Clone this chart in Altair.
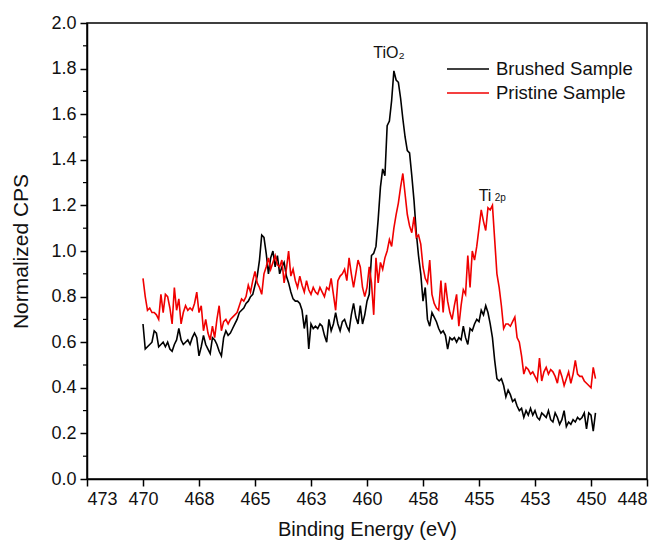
import altair as alt
import pandas as pd

# Binding energy grid (eV), 470.0 down to 449.8 in 0.1 eV steps
energy = [round(470.0 - 0.1 * i, 1) for i in range(203)]

brushed = [
    0.68, 0.57, 0.58, 0.59, 0.60, 0.65, 0.64, 0.58, 0.59, 0.60,
    0.58, 0.60, 0.57, 0.56, 0.59, 0.61, 0.66, 0.61, 0.59, 0.60,
    0.61, 0.59, 0.62, 0.64, 0.62, 0.54, 0.58, 0.63, 0.59, 0.57,
    0.55, 0.62, 0.61, 0.59, 0.56, 0.54, 0.62, 0.65, 0.63, 0.64,
    0.66, 0.68, 0.70, 0.73, 0.74, 0.75, 0.77, 0.78, 0.80, 0.81,
    0.85, 0.89, 0.96, 1.07, 1.06, 0.99, 0.90, 0.97, 1.00, 0.93,
    0.98, 0.90, 0.93, 0.95, 0.89, 0.86, 0.82, 0.79, 0.78, 0.78,
    0.77, 0.74, 0.66, 0.72, 0.57, 0.68, 0.66, 0.67, 0.66, 0.68,
    0.67, 0.63, 0.60, 0.70, 0.65, 0.68, 0.73, 0.68, 0.65, 0.69,
    0.70, 0.67, 0.65, 0.72, 0.77, 0.71, 0.68, 0.76, 0.68, 0.72,
    0.78, 0.81, 0.98, 0.99, 1.02, 1.14, 1.28, 1.36, 1.33, 1.55,
    1.57, 1.66, 1.79, 1.75, 1.74, 1.67, 1.58, 1.50, 1.44, 1.43,
    1.33, 1.22, 1.08, 0.98, 0.90, 0.78, 0.84, 0.70, 0.67, 0.73,
    0.71, 0.69, 0.66, 0.64, 0.65, 0.63, 0.57, 0.62, 0.61, 0.62,
    0.60, 0.62, 0.61, 0.67, 0.62, 0.59, 0.66, 0.65, 0.68, 0.70,
    0.69, 0.74, 0.72, 0.76, 0.73, 0.68, 0.62, 0.52, 0.44, 0.43,
    0.44, 0.41, 0.36, 0.39, 0.37, 0.34, 0.35, 0.32, 0.30, 0.31,
    0.27, 0.30, 0.28, 0.31, 0.28, 0.30, 0.27, 0.26, 0.29, 0.28,
    0.27, 0.30, 0.26, 0.25, 0.29, 0.27, 0.24, 0.26, 0.30, 0.23,
    0.25, 0.24, 0.26, 0.25, 0.27, 0.26, 0.27, 0.29, 0.22, 0.29,
    0.28, 0.21, 0.29,
]

pristine = [
    0.88, 0.80, 0.74, 0.75, 0.73, 0.73, 0.72, 0.70, 0.81, 0.73,
    0.81, 0.80, 0.75, 0.68, 0.84, 0.74, 0.79, 0.68, 0.73, 0.76,
    0.74, 0.75, 0.74, 0.77, 0.82, 0.73, 0.76, 0.65, 0.70, 0.64,
    0.61, 0.67, 0.62, 0.70, 0.76, 0.65, 0.69, 0.70, 0.68, 0.70,
    0.71, 0.72, 0.73, 0.76, 0.79, 0.78, 0.80, 0.85, 0.82, 0.87,
    0.91, 0.86, 0.84, 0.81, 0.90, 0.93, 0.97, 0.92, 0.95, 0.98,
    0.94, 0.93, 0.96, 0.86, 0.92, 1.00, 0.89, 0.92, 0.87, 0.84,
    0.89, 0.85, 0.82, 0.87, 0.83, 0.81, 0.84, 0.82, 0.81, 0.84,
    0.82, 0.80, 0.84, 0.83, 0.88, 0.81, 0.74, 0.87, 0.89, 0.90,
    0.92, 0.87, 0.97, 0.90, 0.84, 0.90, 0.96, 0.93, 0.84, 0.80,
    0.84, 0.93, 0.86, 0.72, 0.97, 0.86, 0.95, 0.92, 0.97, 1.00,
    1.05, 1.02, 1.10, 1.16, 1.21, 1.28, 1.34, 1.25, 1.16, 1.11,
    1.08, 1.15, 1.06, 1.07, 1.03, 0.93, 0.88, 0.86, 0.96, 0.81,
    0.77, 0.75, 0.74, 0.87, 0.73, 0.86, 0.78, 0.73, 0.70, 0.76,
    0.81, 0.67, 0.76, 0.83, 0.81, 0.98, 0.84, 1.00, 0.96, 1.02,
    1.10, 1.18, 1.13, 1.09, 1.19, 1.18, 1.20, 1.05, 0.90, 0.84,
    0.76, 0.66, 0.68, 0.68, 0.67, 0.69, 0.71, 0.62, 0.60, 0.54,
    0.46, 0.49, 0.48, 0.46, 0.47, 0.45, 0.43, 0.53, 0.43, 0.47,
    0.49, 0.46, 0.48, 0.47, 0.45, 0.42, 0.48, 0.45, 0.41, 0.44,
    0.47, 0.42, 0.46, 0.52, 0.46, 0.45, 0.45, 0.43, 0.42, 0.41,
    0.40, 0.49, 0.44,
]

series_names = ["Brushed Sample", "Pristine Sample"]
series_colors = ["#000000", "#f00000"]

x_ticks = [472.5, 470.0, 467.5, 465.0, 462.5, 460.0, 457.5, 455.0, 452.5, 450.0, 447.5]
y_ticks = [0.0, 0.2, 0.4, 0.6, 0.8, 1.0, 1.2, 1.4, 1.6, 1.8, 2.0]
y_minor = [0.1, 0.3, 0.5, 0.7, 0.9, 1.1, 1.3, 1.5, 1.7, 1.9]

ann_text = ["TiO₂", "Ti", "2p"]
ann_energy = [459.02, 454.73, 454.05]
ann_value = [1.868, 1.241, 1.232]
ann_size = [16, 16, 10]

FONT = "Liberation Sans"

df = pd.DataFrame({
    "energy": energy + energy,
    "cps": brushed + pristine,
    "sample": [series_names[0]] * len(energy) + [series_names[1]] * len(energy),
})
ann_df = pd.DataFrame({"text": ann_text, "energy": ann_energy, "cps": ann_value, "size": ann_size})
minor_df = pd.DataFrame({"cps": y_minor})

x_scale = alt.Scale(domain=[472.5, 447.5], nice=False, zero=False)
y_scale = alt.Scale(domain=[0, 2], nice=False, zero=False)

lines = alt.Chart(df).mark_line(strokeWidth=1.6).encode(
    x=alt.X("energy:Q", scale=x_scale,
            axis=alt.Axis(values=x_ticks, labelExpr="round(datum.value)",
                          title="Binding Energy (eV)", titlePadding=11, titleFontSize=20,
                          grid=False, tickSize=7, labelPadding=4)),
    y=alt.Y("cps:Q", scale=y_scale,
            axis=alt.Axis(values=y_ticks, format=".1f", title="Normalized CPS",
                          titlePadding=19, titleFontSize=21,
                          grid=False, tickSize=7, labelPadding=4)),
    color=alt.Color("sample:N", scale=alt.Scale(domain=series_names, range=series_colors),
                    legend=alt.Legend(title=None, orient="none", legendX=370, legendY=35,
                                      symbolType="M-2.1,0H2.1", symbolSize=400,
                                      symbolStrokeWidth=1.6, labelFontSize=18.5,
                                      labelFont=FONT, labelColor="#111111",
                                      rowPadding=3, labelOffset=17, padding=0)),
)

minor = alt.Chart(minor_df).mark_rule(color="#000000", strokeWidth=1.2).encode(
    x=alt.value(-4), x2=alt.value(0),
    y=alt.Y("cps:Q", scale=y_scale),
)

texts = alt.Chart(ann_df).mark_text(align="center", baseline="middle", font=FONT,
                                    color="#111111").encode(
    x=alt.X("energy:Q", scale=x_scale),
    y=alt.Y("cps:Q", scale=y_scale),
    text="text:N",
    size=alt.Size("size:Q", scale=None, legend=None),
)

chart = alt.layer(lines, minor, texts).properties(
    width=560, height=456,
    autosize=alt.AutoSizeParams(type="none"),
    padding={"left": 87, "top": 23, "right": 16, "bottom": 61},
    background="white",
).configure_view(
    stroke="#000000", strokeWidth=1.5,
).configure_axis(
    domainColor="#000000", domainWidth=1.5, tickColor="#000000", tickWidth=1.5,
    labelFont=FONT, labelFontSize=18, labelColor="#111111",
    titleFont=FONT, titleFontWeight="normal", titleColor="#111111",
)

chart.save("out.html", embed_options={"renderer": "svg", "actions": False})
